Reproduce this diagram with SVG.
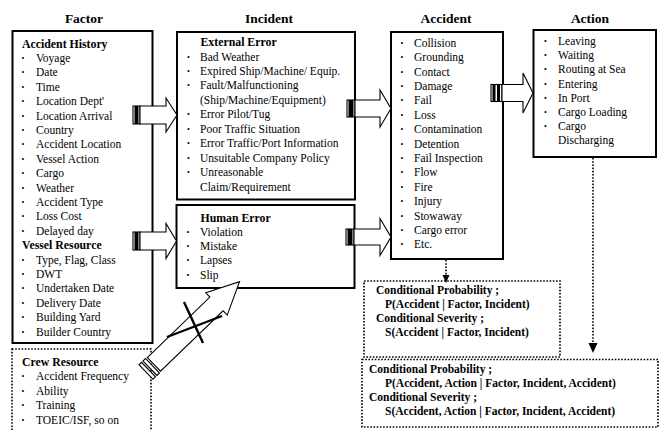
<svg xmlns="http://www.w3.org/2000/svg" width="665" height="430" viewBox="0 0 665 430">
<style>
text{font-family:"Liberation Serif","Times New Roman",serif;font-size:11.5px;fill:#000}
.h{font-weight:bold;font-size:11.8px}
.ttl{font-weight:bold;font-size:13.5px;text-anchor:middle}
.c{font-weight:bold}
.bl{font-size:8px;text-anchor:middle}
.box{fill:#fff;stroke:#000;stroke-width:2}
.dbox{fill:none;stroke:#000;stroke-width:1.6;stroke-dasharray:1.6 1.6}
.ar{fill:#fff;stroke:#000;stroke-width:1.1;stroke-linejoin:miter}
.dl{fill:none;stroke:#000;stroke-width:1.6;stroke-dasharray:1.6 1.6}
</style>

<g id="titles">
<text class="ttl" x="84" y="22.5">Factor</text>
<text class="ttl" x="269" y="22.5">Incident</text>
<text class="ttl" x="446" y="22.5">Accident</text>
<text class="ttl" x="590" y="22.5">Action</text>
</g>

<g id="factor">
<rect class="box" x="12.5" y="31" width="140" height="312"/>
<text class="h" x="22" y="47.5">Accident History</text>
<text class="h" x="22" y="249.1">Vessel Resource</text>
<text class="bl">
<tspan x="23" y="60.9">•</tspan><tspan x="23" y="75.3">•</tspan><tspan x="23" y="89.7">•</tspan><tspan x="23" y="104.1">•</tspan><tspan x="23" y="118.5">•</tspan><tspan x="23" y="132.9">•</tspan><tspan x="23" y="147.3">•</tspan><tspan x="23" y="161.7">•</tspan><tspan x="23" y="176.1">•</tspan><tspan x="23" y="190.5">•</tspan><tspan x="23" y="204.9">•</tspan><tspan x="23" y="219.3">•</tspan><tspan x="23" y="233.7">•</tspan><tspan x="23" y="262.5">•</tspan><tspan x="23" y="276.9">•</tspan><tspan x="23" y="291.3">•</tspan><tspan x="23" y="305.7">•</tspan><tspan x="23" y="320.1">•</tspan><tspan x="23" y="334.5">•</tspan>
</text>
<text>
<tspan x="36" y="61.9">Voyage</tspan><tspan x="36" y="76.3">Date</tspan><tspan x="36" y="90.7">Time</tspan><tspan x="36" y="105.1">Location Dept'</tspan><tspan x="36" y="119.5">Location Arrival</tspan><tspan x="36" y="133.9">Country</tspan><tspan x="36" y="148.3">Accident Location</tspan><tspan x="36" y="162.7">Vessel Action</tspan><tspan x="36" y="177.1">Cargo</tspan><tspan x="36" y="191.5">Weather</tspan><tspan x="36" y="205.9">Accident Type</tspan><tspan x="36" y="220.3">Loss Cost</tspan><tspan x="36" y="234.7">Delayed day</tspan><tspan x="36" y="263.5">Type, Flag, Class</tspan><tspan x="36" y="277.9">DWT</tspan><tspan x="36" y="292.3">Undertaken Date</tspan><tspan x="36" y="306.7">Delivery Date</tspan><tspan x="36" y="321.1">Building Yard</tspan><tspan x="36" y="335.5">Builder Country</tspan>
</text>
</g>

<g id="crew">
<rect class="dbox" x="12" y="349" width="139" height="100"/>
<text class="h" x="22" y="366">Crew Resource</text>
<text class="bl">
<tspan x="23" y="379.4">•</tspan><tspan x="23" y="393.8">•</tspan><tspan x="23" y="408.2">•</tspan><tspan x="23" y="422.6">•</tspan>
</text>
<text>
<tspan x="36" y="380.4">Accident Frequency</tspan><tspan x="36" y="394.8">Ability</tspan><tspan x="36" y="409.2">Training</tspan><tspan x="36" y="423.6">TOEIC/ISF, so on</tspan>
</text>
</g>

<g id="incident-external">
<rect class="box" x="177" y="32" width="178" height="167.5"/>
<text class="h" x="200.5" y="46">External Error</text>
<text class="bl">
<tspan x="188.5" y="59.5">•</tspan><tspan x="188.5" y="73.9">•</tspan><tspan x="188.5" y="88.4">•</tspan><tspan x="188.5" y="117.4">•</tspan><tspan x="188.5" y="131.8">•</tspan><tspan x="188.5" y="146.3">•</tspan><tspan x="188.5" y="160.8">•</tspan><tspan x="188.5" y="175.2">•</tspan>
</text>
<text>
<tspan x="200" y="60.5">Bad Weather</tspan><tspan x="200" y="74.9">Expired Ship/Machine/ Equip.</tspan><tspan x="200" y="89.4">Fault/Malfunctioning</tspan><tspan x="200" y="103.9">(Ship/Machine/Equipment)</tspan><tspan x="200" y="118.4">Error Pilot/Tug</tspan><tspan x="200" y="132.8">Poor Traffic Situation</tspan><tspan x="200" y="147.3">Error Traffic/Port Information</tspan><tspan x="200" y="161.8">Unsuitable Company Policy</tspan><tspan x="200" y="176.2">Unreasonable</tspan><tspan x="200" y="190.7">Claim/Requirement</tspan>
</text>
</g>

<g id="incident-human">
<rect class="box" x="176.5" y="205" width="178" height="83"/>
<text class="h" x="200.5" y="221.7">Human Error</text>
<text class="bl">
<tspan x="188" y="234.9">•</tspan><tspan x="188" y="249.1">•</tspan><tspan x="188" y="263.3">•</tspan><tspan x="188" y="277.5">•</tspan>
</text>
<text>
<tspan x="200" y="235.9">Violation</tspan><tspan x="200" y="250.1">Mistake</tspan><tspan x="200" y="264.3">Lapses</tspan><tspan x="200" y="278.5">Slip</tspan>
</text>
</g>

<g id="accident">
<rect class="box" x="391" y="32" width="112" height="227"/>
<text class="bl">
<tspan x="402" y="45.7">•</tspan><tspan x="402" y="60.1">•</tspan><tspan x="402" y="74.5">•</tspan><tspan x="402" y="88.9">•</tspan><tspan x="402" y="103.3">•</tspan><tspan x="402" y="117.7">•</tspan><tspan x="402" y="132.1">•</tspan><tspan x="402" y="146.5">•</tspan><tspan x="402" y="160.9">•</tspan><tspan x="402" y="175.3">•</tspan><tspan x="402" y="189.7">•</tspan><tspan x="402" y="204.1">•</tspan><tspan x="402" y="218.5">•</tspan><tspan x="402" y="232.9">•</tspan><tspan x="402" y="247.3">•</tspan>
</text>
<text>
<tspan x="414" y="46.7">Collision</tspan><tspan x="414" y="61.1">Grounding</tspan><tspan x="414" y="75.5">Contact</tspan><tspan x="414" y="89.9">Damage</tspan><tspan x="414" y="104.3">Fail</tspan><tspan x="414" y="118.7">Loss</tspan><tspan x="414" y="133.1">Contamination</tspan><tspan x="414" y="147.5">Detention</tspan><tspan x="414" y="161.9">Fail Inspection</tspan><tspan x="414" y="176.3">Flow</tspan><tspan x="414" y="190.7">Fire</tspan><tspan x="414" y="205.1">Injury</tspan><tspan x="414" y="219.5">Stowaway</tspan><tspan x="414" y="233.9">Cargo error</tspan><tspan x="414" y="248.3">Etc.</tspan>
</text>
</g>

<g id="action">
<rect class="box" x="533.5" y="30" width="122.5" height="127"/>
<text class="bl">
<tspan x="545.5" y="44">•</tspan><tspan x="545.5" y="58.2">•</tspan><tspan x="545.5" y="72.4">•</tspan><tspan x="545.5" y="86.6">•</tspan><tspan x="545.5" y="100.8">•</tspan><tspan x="545.5" y="115">•</tspan><tspan x="545.5" y="129.2">•</tspan>
</text>
<text>
<tspan x="558" y="45">Leaving</tspan><tspan x="558" y="59.2">Waiting</tspan><tspan x="558" y="73.4">Routing at Sea</tspan><tspan x="558" y="87.6">Entering</tspan><tspan x="558" y="101.8">In Port</tspan><tspan x="558" y="116">Cargo Loading</tspan><tspan x="558" y="130.2">Cargo</tspan><tspan x="558" y="144.4">Discharging</tspan>
</text>
</g>

<g id="cond-accident">
<rect class="dbox" x="364" y="281" width="196" height="76"/>
<text class="c" x="376" y="293.5">Conditional Probability ;</text>
<text class="c" x="385" y="307.5">P(Accident | Factor, Incident)</text>
<text class="c" x="376" y="321.5">Conditional Severity ;</text>
<text class="c" x="385" y="335.5">S(Accident | Factor, Incident)</text>
</g>

<g id="cond-action">
<rect class="dbox" x="362" y="359.5" width="296" height="67.5"/>
<text class="c" x="369" y="373">Conditional Probability ;</text>
<text class="c" x="385" y="387">P(Accident, Action | Factor, Incident, Accident)</text>
<text class="c" x="369" y="401">Conditional Severity ;</text>
<text class="c" x="385" y="415">S(Accident, Action | Factor, Incident, Accident)</text>
</g>

<g id="connectors">
<rect class="ar" x="133" y="106" width="7" height="18"/>
<rect x="134.5" y="106" width="4" height="18" fill="#000"/>
<polygon class="ar" points="140,106 166,106 166,98 177,115 166,132 166,124 140,124"/>
<rect class="ar" x="133" y="232" width="7" height="18"/>
<rect x="134.5" y="232" width="4" height="18" fill="#000"/>
<polygon class="ar" points="140,232 166,232 166,223.5 176.5,241 166,258.5 166,250 140,250"/>
<rect class="ar" x="347" y="100" width="8" height="17"/>
<rect x="348.5" y="100" width="5" height="17" fill="#000"/>
<polygon class="ar" points="355,100 380,100 380,90 391,108.5 380,127 380,117 355,117"/>
<rect class="ar" x="346" y="229" width="8" height="16"/>
<rect x="347.5" y="229" width="5" height="16" fill="#000"/>
<polygon class="ar" points="354,229 380,229 380,218.5 391,237 380,255.5 380,245 354,245"/>
<rect class="ar" x="491" y="84.5" width="11" height="17"/>
<rect x="492.5" y="84.5" width="3" height="17" fill="#000"/>
<rect x="497" y="84.5" width="3" height="17" fill="#000"/>
<polygon class="ar" points="502,84.5 523,84.5 523,73 533,93 523,113 523,101.5 502,101.5"/>
<g transform="translate(146,372) rotate(-44)">
<rect class="ar" x="0" y="-10" width="3.5" height="20"/>
<rect class="ar" x="5.5" y="-10" width="3.5" height="20"/>
<polygon class="ar" points="11,-9.5 98,-9.5 98,-15.5 130,0 98,15.5 98,9.5 11,9.5"/>
</g>
<line x1="184" y1="302" x2="203" y2="343" stroke="#000" stroke-width="2.4"/>
<line x1="167" y1="337" x2="222" y2="316" stroke="#000" stroke-width="2.4"/>
<line class="dl" x1="446" y1="260" x2="446" y2="276"/>
<polygon points="442.5,275 449.5,275 446,283" fill="#000"/>
<line class="dl" x1="593" y1="158" x2="593" y2="344"/>
<polygon points="588.5,343 597.5,343 593,353" fill="#000"/>
</g>
</svg>
